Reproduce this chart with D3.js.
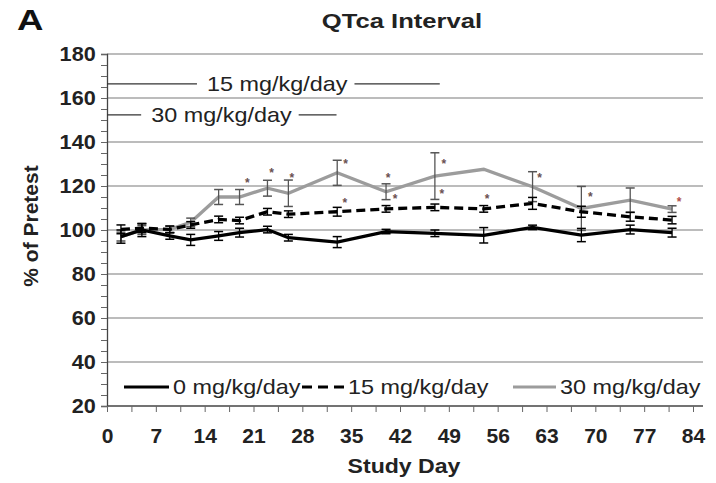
<!DOCTYPE html>
<html>
<head>
<meta charset="utf-8">
<script src="https://cdn.jsdelivr.net/npm/d3@7/dist/d3.min.js"></script>
<style>
  html, body { margin: 0; padding: 0; background: #fff; }
  svg { display: block; font-family: "Liberation Sans", Arial, sans-serif; }
</style>
</head>
<body>
<svg id="chart" width="716" height="483"></svg>
<script>
// Study days on which QTca was recorded
const days = [2, 5, 9, 12, 16, 19, 23, 26, 33, 40, 47, 54, 61, 68, 75, 81];

// QTca as % of pretest, mean and error per dose group
const dose0     = [97, 100, 97.3, 95.5, 97.3, 98.8, 100.2, 96.5, 94.5, 99.3, 98.5, 97.6, 101.2, 97.7, 100.2, 98.8];
const dose0Err  = [3, 3, 1.5, 2.5, 2, 2, 1.5, 1.5, 2.5, 1, 1.5, 3.5, 1, 3, 2, 2];
const dose15    = [100.3, 100.8, 100.3, 102.3, 104.8, 104.3, 108.3, 107.2, 108.3, 109.6, 110.3, 109.6, 112.1, 108.3, 106, 104.5];
const dose15Err = [2, 2, 1.5, 1.5, 1.5, 1.5, 1.5, 1.5, 2, 1.5, 1.5, 1.5, 2.7, 2.5, 2, 1.7];
const dose30    = [97, 100, 100.3, 103.5, 115, 115, 119, 116.7, 126, 117.4, 124.5, 127.6, 119.7, 109.8, 113.6, 109.5];
const dose30Err = [2, 2, 1.5, 1.9, 3.4, 3.4, 3.6, 6, 5.7, 3.6, 10.6, 0, 6.8, 10, 5.5, 1.5];

// Significance markers (day, % of pretest)
const markDays = [20.1, 23.6, 26.5, 34.2, 34.1, 40.3, 41.3, 48.3, 48.0, 54.5, 62, 69.3, 82];
const markVals = [122, 126.5, 124.2, 130.3, 112.9, 124, 114.4, 130.6, 116.7, 114.7, 124.2, 115.5, 113.2];

// Dosing periods shown as labelled bars
const periodLabels = ["15 mg/kg/day", "30 mg/kg/day"];
const periodEnd    = [47.7, 32.9];
const periodLevel  = [166.4, 152.3];
const periodLabelDay = [24.4, 16.4];

// Axis ticks
const yTicks = [20, 40, 60, 80, 100, 120, 140, 160, 180];
const xTicks = [0, 7, 14, 21, 28, 35, 42, 49, 56, 63, 70, 77, 84];
const legendLabels = ["0 mg/kg/day", "15 mg/kg/day", "30 mg/kg/day"];

const svg = d3.select("#chart");
const x = d3.scaleLinear().domain([0, 84]).range([107, 693]);
const y = d3.scaleLinear().domain([20, 180]).range([406, 54]);
const plotRight = 703;
const ink = "#222";

// Text drawn with a slight horizontal stretch
function wideText(parent, px, py, str, opts) {
  const o = Object.assign({ size: 20, weight: "normal", anchor: "start", sx: 1.17, fill: ink }, opts || {});
  return parent.append("text")
    .attr("transform", `translate(${px},${py}) scale(${o.sx},1)`)
    .attr("text-anchor", o.anchor)
    .attr("font-size", o.size).attr("font-weight", o.weight).attr("fill", o.fill)
    .text(str);
}

// Gridlines
svg.append("g").selectAll("line")
  .data(yTicks.filter(v => v > 20))
  .join("line")
  .attr("x1", x(0)).attr("x2", plotRight)
  .attr("y1", d => y(d)).attr("y2", d => y(d))
  .attr("stroke", "#a6a6a6").attr("stroke-width", 1.3);

// Y axis
const yAxis = d3.axisLeft(y).tickValues(d3.range(20, 181, 5)).tickSize(6).tickPadding(5)
  .tickFormat(d => yTicks.includes(d) ? d : "");
const gy = svg.append("g").attr("transform", `translate(${x(0)},0)`).call(yAxis);
gy.select(".domain").attr("stroke", "#444").attr("stroke-width", 1.3);
gy.selectAll(".tick line").attr("stroke", "#666");
gy.selectAll(".tick text").attr("font-size", 21).attr("font-weight", "bold").attr("fill", ink)
  .attr("font-family", "Liberation Sans, Arial, sans-serif")
  .attr("transform", "scale(1.03,1)");

// X axis
const xAxis = d3.axisBottom(x).tickValues(d3.range(0, 84.1, 3.5)).tickSize(6)
  .tickFormat(d => xTicks.includes(d) ? d : "");
const gx = svg.append("g").attr("transform", `translate(0,${y(20)})`).call(xAxis);
gx.select(".domain").attr("d", `M${x(0)},0H${plotRight}`).attr("stroke", "#444").attr("stroke-width", 1.3);
gx.selectAll(".tick line").attr("stroke", "#666");
gx.selectAll(".tick text").attr("font-size", 21).attr("font-weight", "bold").attr("fill", ink)
  .attr("font-family", "Liberation Sans, Arial, sans-serif")
  .attr("y", 37).attr("dy", null);

// Axis titles
wideText(svg, 404, 473, "Study Day", { size: 21, weight: "bold", anchor: "middle", sx: 1.1 });
svg.append("text").attr("transform", "translate(38,226) rotate(-90)").attr("text-anchor", "middle")
  .attr("font-size", 21).attr("font-weight", "bold").attr("fill", ink).text("% of Pretest");

// Title and panel letter
wideText(svg, 402, 28, "QTca Interval", { size: 21, weight: "bold", anchor: "middle", sx: 1.22 });
wideText(svg, 17, 30, "A", { size: 30, weight: "bold", sx: 1.22, fill: "#111" });

// Dosing period bars with labels; the bar breaks around its label
periodLabels.forEach((label, i) => {
  const ly = y(periodLevel[i]);
  const t = wideText(svg, x(periodLabelDay[i]), ly + 7, label, { size: 20, anchor: "middle" });
  const half = t.node().getBBox().width * 1.17 / 2;
  const cx = x(periodLabelDay[i]);
  const segs = [[x(0), cx - half - 10], [cx + half + 7, x(periodEnd[i])]];
  svg.append("g").selectAll("line").data(segs).join("line")
    .attr("x1", s => s[0]).attr("x2", s => s[1])
    .attr("y1", ly).attr("y2", ly)
    .attr("stroke", "#333").attr("stroke-width", 1.3);
});

// Series definitions
const series = [
  { vals: dose0,  err: dose0Err,  color: "#000",    dash: null,  barColor: "#000" },
  { vals: dose15, err: dose15Err, color: "#000",    dash: "9,5", barColor: "#000" },
  { vals: dose30, err: dose30Err, color: "#9c9c9c", dash: null,  barColor: "#555" }
];

const line = d3.line().x(d => x(d.day)).y(d => y(d.v));

// Draw back-to-front: 30, 15, 0
[2, 1, 0].forEach(si => {
  const s = series[si];
  const pts = days.map((day, i) => ({ day, v: s.vals[i], e: s.err[i] }));
  svg.append("path").datum(pts)
    .attr("d", line).attr("fill", "none")
    .attr("stroke", s.color).attr("stroke-width", 3.3)
    .attr("stroke-dasharray", s.dash);
  const eb = svg.append("g").selectAll("g").data(pts.filter(p => p.e > 0)).join("g");
  eb.append("line").attr("x1", p => x(p.day)).attr("x2", p => x(p.day))
    .attr("y1", p => y(p.v - p.e)).attr("y2", p => y(p.v + p.e))
    .attr("stroke", s.barColor).attr("stroke-width", 1.3);
  [-1, 1].forEach(sign => {
    eb.append("line").attr("x1", p => x(p.day) - 4.5).attr("x2", p => x(p.day) + 4.5)
      .attr("y1", p => y(p.v + sign * p.e)).attr("y2", p => y(p.v + sign * p.e))
      .attr("stroke", s.barColor).attr("stroke-width", 1.5);
  });
});

// Significance markers
svg.append("g").selectAll("text")
  .data(markDays.map((d, i) => ({ d, v: markVals[i], last: i === markDays.length - 1 })))
  .join("text")
  .attr("x", m => x(m.d)).attr("y", m => y(m.v) + 5)
  .attr("text-anchor", "middle").attr("font-size", 12).attr("font-weight", "bold")
  .attr("fill", m => m.last ? "#b0504a" : "#6a5050")
  .text("*");

// Legend
const legendX = [124, 302, 513];
const legendW = [45, 42, 43];
const lg = svg.append("g").selectAll("g").data(series).join("g")
  .attr("transform", (d, i) => `translate(${legendX[i]},387)`);
lg.append("line").attr("x1", 0).attr("x2", (d, i) => legendW[i]).attr("y1", 0).attr("y2", 0)
  .attr("stroke", d => d.color).attr("stroke-width", 3)
  .attr("stroke-dasharray", d => d.dash ? "10,6" : null);
lg.each(function (d, i) {
  wideText(d3.select(this), legendW[i] + 4, 7, legendLabels[i], { size: 20 });
});
</script>
</body>
</html>
